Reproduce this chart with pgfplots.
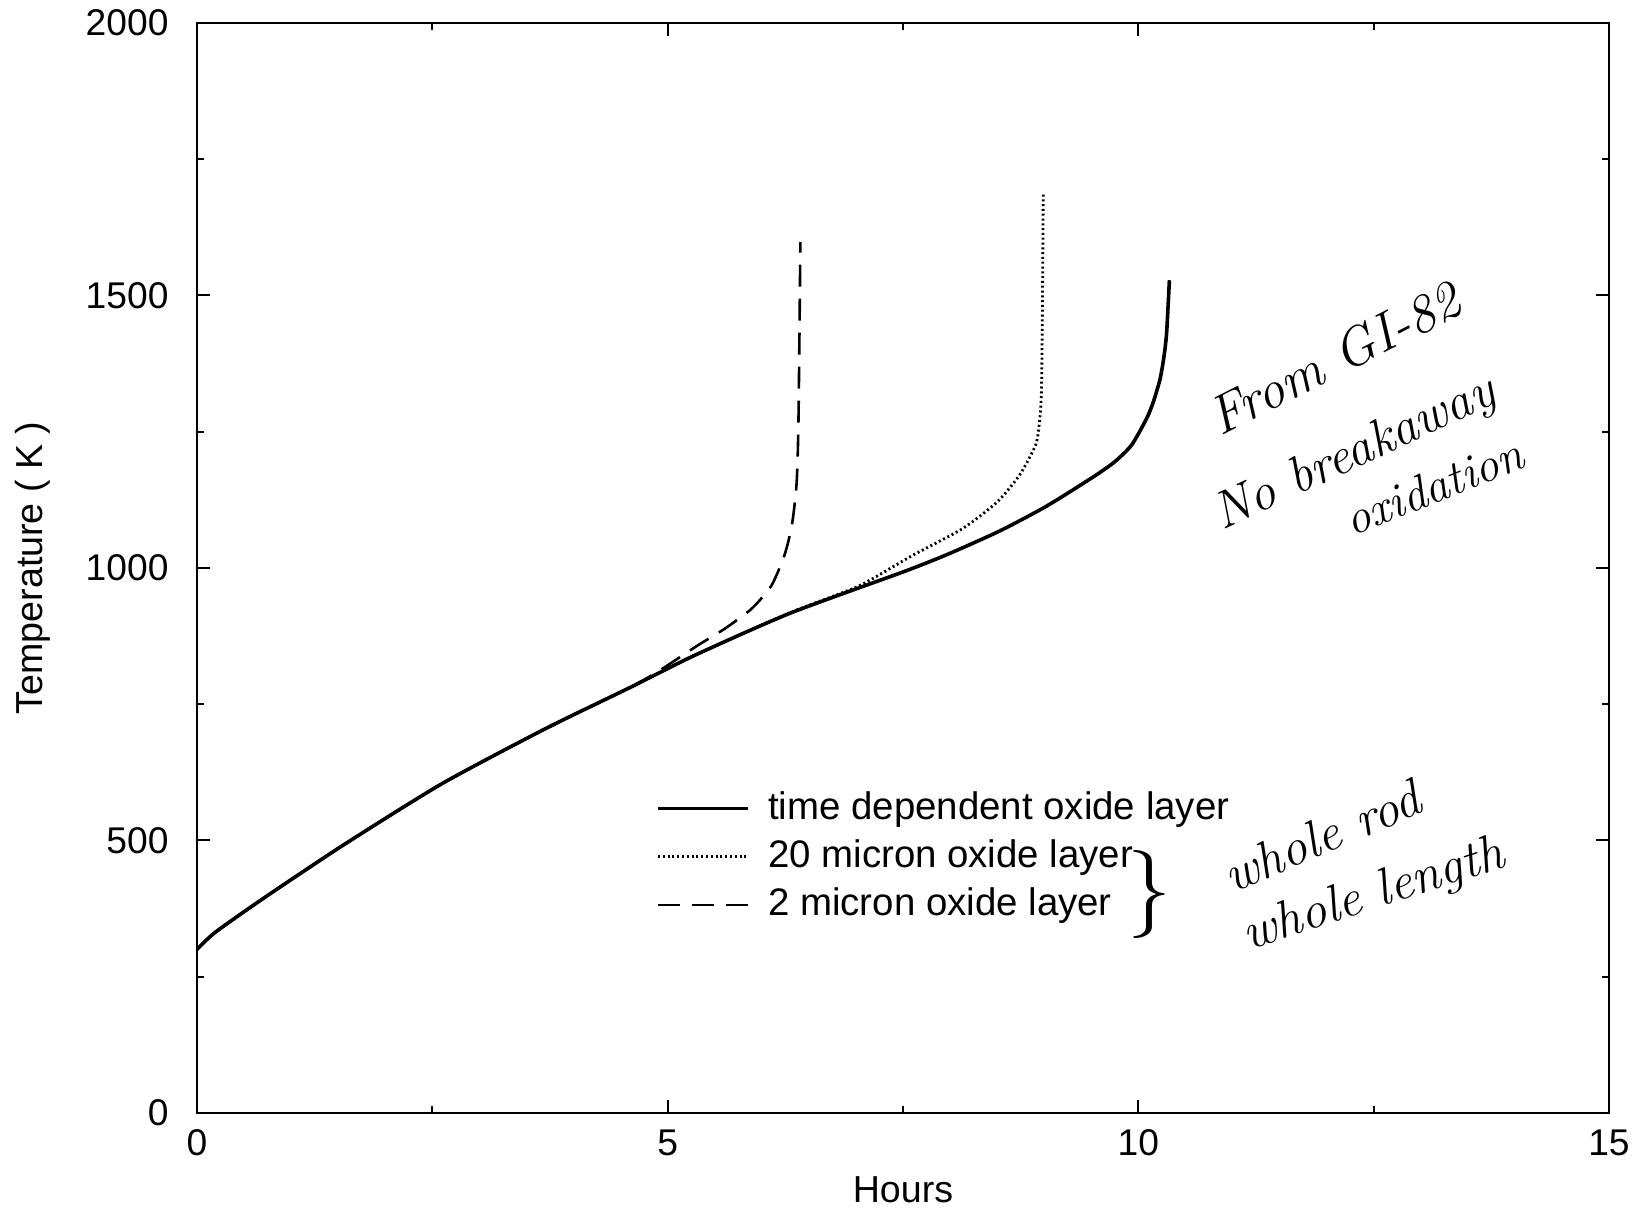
\documentclass[border=0pt]{standalone}
\usepackage{fontspec}
\setmainfont{Liberation Sans}
\newfontfamily\hand{Latin Modern Roman}
\usepackage{pgfplots}
\pgfplotsset{compat=1.18}

% curves
\pgfplotstableread{
x T
0.00 300
0.19 331
0.69 392
1.54 490
2.60 604
3.70 705
4.58 779
5.29 840
6.30 917
7.52 994
8.00 1027
8.54 1069
9.03 1114
9.52 1167
9.75 1195
9.93 1226
10.09 1275
10.16 1305
10.23 1346
10.27 1385
10.30 1430
10.33 1528
}\timedep
\pgfplotstableread{
x T
0.00 300
0.19 331
0.69 392
1.54 490
2.60 604
3.70 705
4.58 779
5.29 840
6.30 918
7.03 967
7.60 1023
8.13 1072
8.50 1121
8.74 1171
8.91 1226
8.95 1268
8.97 1320
8.98 1450
8.99 1690
}\twenty
\pgfplotstableread{
x T
0.00 300
0.19 331
0.69 392
1.54 490
2.60 604
3.70 705
4.58 779
4.85 805
5.04 826
5.32 858
5.61 889
5.89 925
6.10 967
6.24 1023
6.32 1079
6.37 1156
6.39 1275
6.41 1598
}\two

\begin{document}
\begin{tikzpicture}
\begin{axis}[
  scale only axis, width=353pt, height=272.5pt,
  xmin=0, xmax=15, ymin=0, ymax=2000,
  xtick={0,5,10,15}, ytick={0,500,...,2000},
  minor xtick={2.5,7.5,12.5}, minor ytick={250,750,1250,1750},
  major tick length=3.3pt, minor tick length=1.7pt,
  tick style={black, line width=0.5pt},
  axis line style={line width=0.6pt},
  /pgf/number format/assume math mode=true,
  /pgf/number format/1000 sep={},
  tick label style={font=\fontsize{9.3}{11}\selectfont},
  label style={font=\fontsize{9.4}{11}\selectfont},
  yticklabel style={xshift=-3.6pt},
  xticklabel style={yshift=-0.7pt},
  xlabel={Hours}, ylabel={Temperature ( K )},
  xlabel style={at={(axis description cs:0.5,-0.0706)}, anchor=center},
  ylabel style={at={(axis description cs:-0.116,0.5)}, anchor=center},
  legend cell align=left,
  legend image code/.code={\draw[#1] (0pt,0pt) -- (22.5pt,0pt);},
  legend style={at={(axis cs:4.87,606)}, anchor=north west, draw=none,
    fill=none, inner sep=0pt, row sep=-0.4pt, column sep=2.6pt,
    font=\fontsize{9.6}{11}\selectfont},
]
\addplot[black, line width=0.9pt, smooth, tension=0.4] table {\timedep};
\addplot[black, line width=0.7pt, smooth, tension=0.4, dash pattern=on 0.5pt off 0.7pt] table {\twenty};
\addplot[black, line width=0.65pt, smooth, tension=0.4, dash pattern=on 5.5pt off 3pt] table {\two};
\legend{time dependent oxide layer, 20 micron oxide layer, 2 micron oxide layer}

% handwritten notes on the print
\node[font=\hand\itshape\fontsize{13.5}{14}\selectfont, rotate=27] at (axis cs:12.08,1385) {From GI-82};
\node[font=\hand\itshape\fontsize{13}{14}\selectfont, rotate=25] at (axis cs:12.30,1208) {No breakaway};
\node[font=\hand\itshape\fontsize{12}{12}\selectfont, rotate=22] at (axis cs:13.14,1150) {oxidation};
\node[font=\hand\fontsize{22}{22}\selectfont] at (axis cs:10.12,400) {\}};
\node[font=\hand\itshape\fontsize{13}{13}\selectfont, rotate=23] at (axis cs:11.95,508) {whole rod};
\node[font=\hand\itshape\fontsize{13}{13}\selectfont, rotate=18] at (axis cs:12.50,398) {whole length};
\end{axis}
\pgfresetboundingbox
\path (-49.25pt,-24.25pt) rectangle (361.25pt,278.25pt);
\end{tikzpicture}
\end{document}
